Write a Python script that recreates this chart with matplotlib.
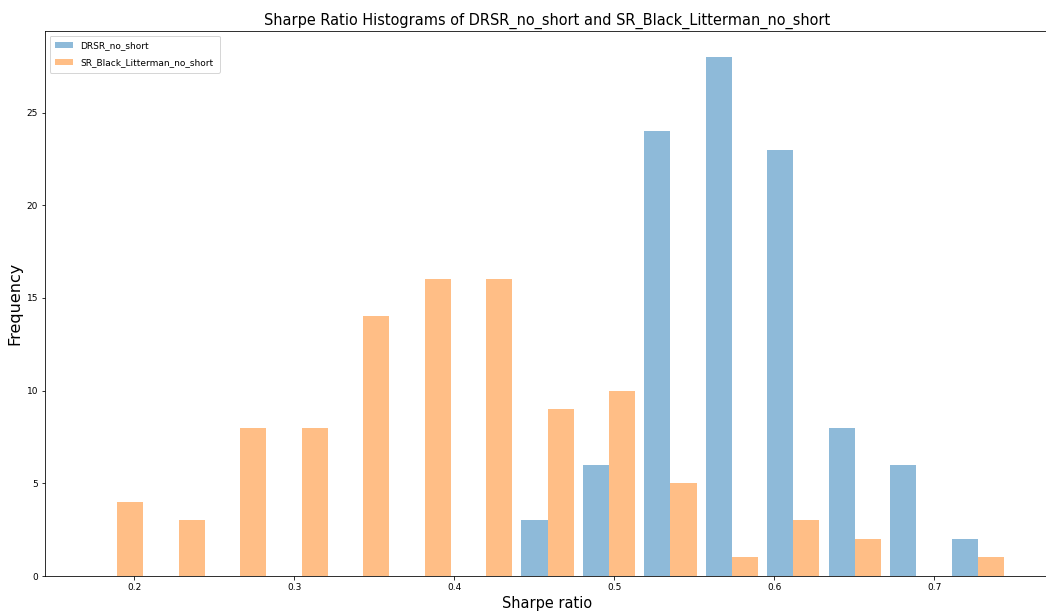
import numpy as np
import matplotlib
matplotlib.use("Agg")
import matplotlib.pyplot as plt

# histogram bins (15 bins over the pooled range of both series)
bin_lo = 0.1702
bin_hi = 0.7464
n_bins = 15

drsr_counts = [0, 0, 0, 0, 0, 0, 0, 3, 6, 24, 28, 23, 8, 6, 2]
bl_counts = [4, 3, 8, 8, 14, 16, 16, 9, 10, 5, 1, 3, 2, 0, 1]

edges = np.linspace(bin_lo, bin_hi, n_bins + 1)
centers = (edges[:-1] + edges[1:]) / 2

fig = plt.figure(figsize=(1046 / 72, 612 / 72), dpi=72)
ax = fig.add_axes([45 / 1046, 36 / 612, 1005 / 1046, 545 / 612])

ax.hist([centers, centers], bins=edges, weights=[drsr_counts, bl_counts],
        alpha=0.5, rwidth=0.85,
        label=['DRSR_no_short', 'SR_Black_Litterman_no_short'])

ax.set_xlim(0.1442, 0.7724)
ax.spines['right'].set_visible(False)
ax.tick_params(labelsize=9)
ax.set_title('Sharpe Ratio Histograms of DRSR_no_short and SR_Black_Litterman_no_short',
             fontsize=14.5)
ax.set_xlabel('Sharpe ratio', fontsize=14.5)
ax.set_ylabel('Frequency', fontsize=16)
ax.legend(loc='upper left', fontsize=9, labelspacing=0.85, borderpad=0.65)

fig.savefig('out.png', dpi=72)
